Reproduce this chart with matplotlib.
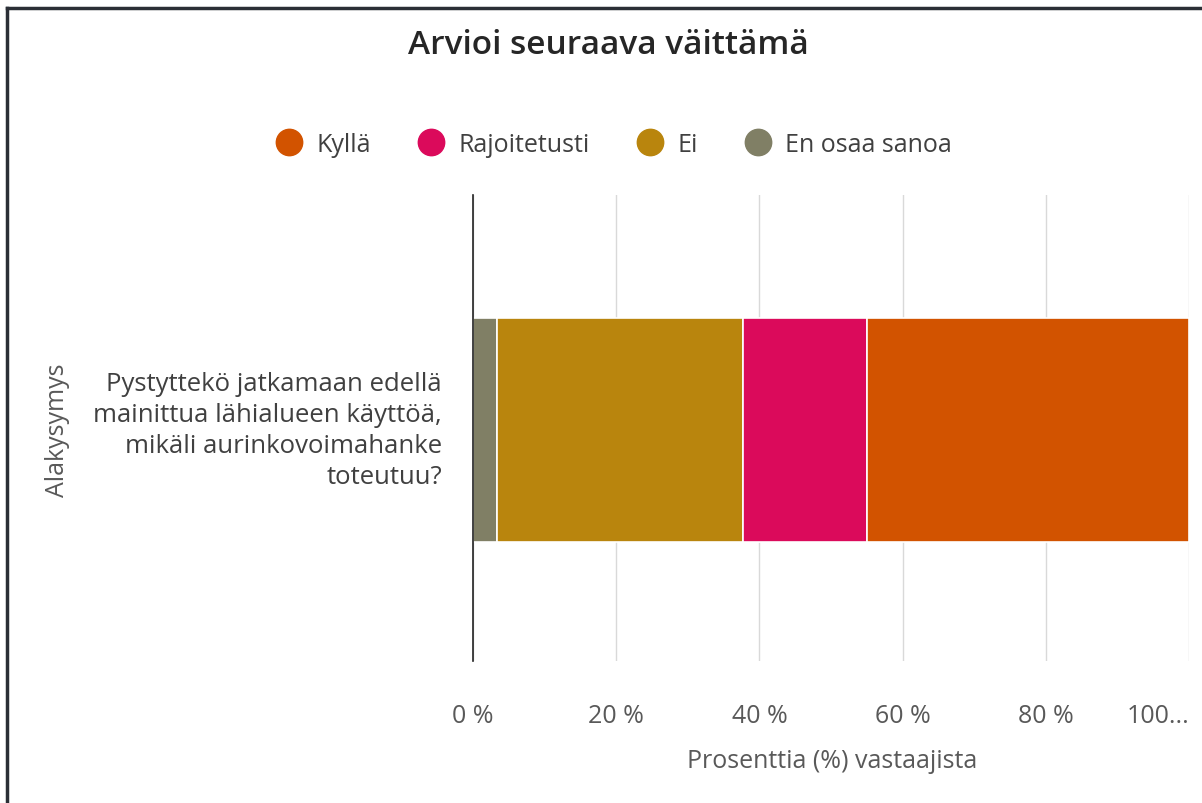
"""
Arvioi seuraava väittämä - pinottu vaakapalkki
"""

import matplotlib
matplotlib.use('Agg')
import matplotlib.pyplot as plt
from matplotlib.lines import Line2D

plt.rcParams['font.family'] = ['Open Sans', 'DejaVu Sans']

# data
question = 'Pystyttekö jatkamaan edellä\nmainittua lähialueen käyttöä,\nmikäli aurinkovoimahanke\ntoteutuu?'
series = ['En osaa sanoa', 'Ei', 'Rajoitetusti', 'Kyllä']
values = [3.3, 34.4, 17.3, 45.0]
colors = ['#807F65', '#B9850D', '#DB0A5B', '#D25300']
legend_order = ['Kyllä', 'Rajoitetusti', 'Ei', 'En osaa sanoa']
xticks = [0, 20, 40, 60, 80, 100]
xticklabels = ['0 %', '20 %', '40 %', '60 %', '80 %', '100...']

fig = plt.figure(figsize=(12.02, 8.04), dpi=100)
W, H = 1202, 804
ax = fig.add_axes([473 / W, 1 - 662 / H, (1189 - 473) / W, (662 - 196) / H])

# palkit
left = 0
for name, val, col in zip(series, values, colors):
    ax.barh(0, val, left=left, height=0.48, color=col, edgecolor='white',
            linewidth=1.2, label=name, zorder=3)
    left += val

ax.set_xlim(0, 100)
ax.set_ylim(-0.495, 0.505)
ax.set_xticks(xticks)
ax.set_xticklabels(xticklabels, fontsize=18, color='#595959')
ax.get_xticklabels()[-1].set_horizontalalignment('right')
ax.tick_params(axis='x', length=0, pad=30)
ax.set_yticks([])
ax.grid(axis='x', color='#D9D9D9', linewidth=1, zorder=0)
for s in ['top', 'right', 'bottom']:
    ax.spines[s].set_visible(False)
ax.spines['left'].set_color('#222222')
ax.spines['left'].set_linewidth(1.2)
ax.spines['left'].set_zorder(4)

# akselin otsikko
fig.text(832 / W, 1 - 762 / H, 'Prosenttia (%) vastaajista', ha='center', va='center',
         fontsize=18, color='#595959')

# kysymys ja akselin otsikko
fig.text(442 / W, 1 - 431 / H, question, ha='right', va='center', fontsize=18.5,
         color='#404040', linespacing=1.3)
fig.text(57 / W, 1 - 430 / H, 'Alakysymys', rotation=90, ha='center', va='center',
         fontsize=18, color='#595959')

# otsikko
fig.text(608 / W, 1 - 46 / H, 'Arvioi seuraava väittämä', ha='center', va='center',
         fontsize=24, fontweight='semibold', color='#262626')

# selite
handles = [Line2D([], [], marker='o', linestyle='', markersize=19,
                  color=colors[series.index(n)]) for n in legend_order]
fig.legend(handles, legend_order, loc='center', bbox_to_anchor=(608 / W, 1 - 145 / H),
           ncol=4, frameon=False, fontsize=18, labelcolor='#404040',
           handletextpad=0.1, columnspacing=1.4)

# kehys
fig.add_artist(Line2D([7 / W, 1], [1 - 8.5 / H, 1 - 8.5 / H], color='#2B2F36', linewidth=2.5))
fig.add_artist(Line2D([7 / W, 7 / W], [0, 1 - 8.5 / H], color='#2B2F36', linewidth=2.5))

fig.savefig('out.png', dpi=100)
